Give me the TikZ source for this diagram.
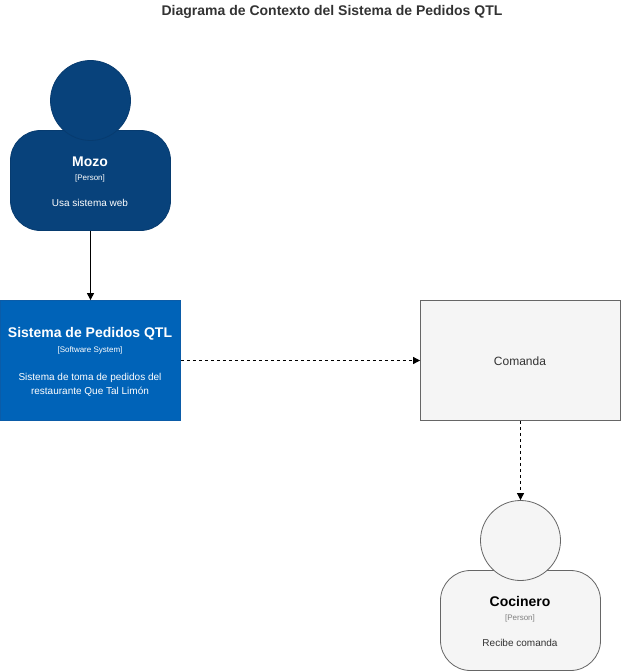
\documentclass[tikz,border=0pt]{standalone}
\usepackage{fontspec}
\setmainfont{Liberation Sans}
\usetikzlibrary{arrows.meta}
\definecolor{mozofill}{HTML}{08427B}
\definecolor{mozoline}{HTML}{073B6F}
\definecolor{sysfill}{HTML}{0063B8}
\definecolor{sysline}{HTML}{0B5CA8}
\definecolor{greyfill}{HTML}{F5F5F5}
\definecolor{greyline}{HTML}{666666}
\definecolor{titlecol}{HTML}{333333}
\definecolor{subgrey}{HTML}{808080}
\tikzset{
  x=1pt,y=-1pt,
  personbody/.style={rounded corners=30pt,minimum width=160pt,minimum height=100pt,inner sep=0pt,line width=0.8pt},
  personhead/.style={circle,minimum size=80pt,inner sep=0pt,line width=0.8pt},
  blueperson/.style={fill=mozofill,draw=mozoline},
  greyshape/.style={fill=greyfill,draw=greyline},
  sysbox/.style={minimum width=180pt,minimum height=120pt,inner sep=0pt,line width=0.8pt},
  lbl/.style={inner sep=0pt,align=center,anchor=center},
  solidarrow/.style={-{Triangle[length=7pt,width=7pt]},line width=1pt,black},
  dasharrow/.style={-{Triangle[length=7pt,width=7pt]},line width=0.8pt,black,dash pattern=on 3pt off 3pt},
}
\newcommand{\tsize}[1]{\fontsize{#1}{#1}\selectfont}
\begin{document}
\begin{tikzpicture}
\useasboundingbox (0,0) rectangle (621,671);
\node[lbl,text=titlecol] (title) at (332,11.5) {\tsize{14}\bfseries Diagrama de Contexto del Sistema de Pedidos QTL};

\node[personbody,blueperson] (mozobody) at (90.5,180.5) {};
\node[personhead,blueperson] (mozohead) at (90.5,100.5) {};
\node[lbl,text=white] (mozoname) at (90,162) {\tsize{14}\bfseries Mozo};
\node[lbl,text=white] (mozotype) at (90,178) {\tsize{8}[Person]};
\node[lbl,text=white] (mozodesc) at (90,203) {\tsize{10}Usa sistema web};

\node[sysbox,fill=sysfill,draw=sysline] (sistema) at (90.5,360.5) {};
\node[lbl,text=white] (sisname) at (90,334) {\tsize{14}\bfseries Sistema de Pedidos QTL};
\node[lbl,text=white] (sistype) at (90,350) {\tsize{8}[Software System]};
\node[lbl,text=white] (sisdesc1) at (90,377.5) {\tsize{10}Sistema de toma de pedidos del};
\node[lbl,text=white] (sisdesc2) at (90,392) {\tsize{10}restaurante Que Tal Limón};

\node[sysbox,minimum width=200pt,greyshape] (comanda) at (520.5,360.5) {};
\node[lbl,text=titlecol] (comandatxt) at (520,361) {\tsize{12}Comanda};

\node[personbody,greyshape] (cocibody) at (520.5,620.5) {};
\node[personhead,greyshape] (cocihead) at (520.5,540.5) {};
\node[lbl,text=black] (coci) at (520,601.5) {\tsize{14}\bfseries Cocinero};
\node[lbl,text=subgrey] (cocitype) at (520,618) {\tsize{8}[Person]};
\node[lbl,text=titlecol] (cocidesc) at (520,643) {\tsize{10}Recibe comanda};

\draw[solidarrow] (mozobody.south) -- (sistema.north);
\draw[dasharrow] (sistema.east) -- (comanda.west);
\draw[dasharrow] (comanda.south) -- (cocihead.north);
\end{tikzpicture}
\end{document}
